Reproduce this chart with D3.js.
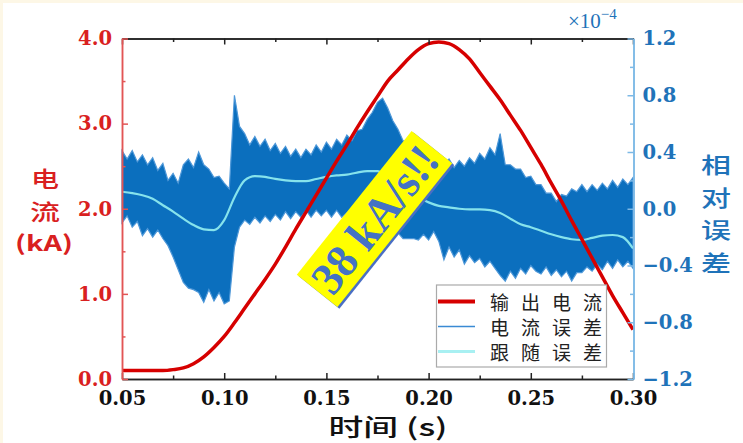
<!DOCTYPE html>
<html>
<head>
<meta charset="utf-8">
<script src="https://cdn.jsdelivr.net/npm/d3@7"></script>
<style>
  html, body { margin: 0; padding: 0; background: #fdf7e6; }
  svg { display: block; }
</style>
</head>
<body>
<svg id="chart" width="743" height="443"></svg>
<script>
// time grid (s)
var tCurve = [0.050,0.055,0.060,0.065,0.070,0.075,0.080,0.085,0.090,0.095,
	0.100,0.105,0.110,0.115,0.120,0.125,0.130,0.135,0.140,0.145,
	0.150,0.155,0.160,0.165,0.170,0.175,0.180,0.185,0.190,0.195,
	0.200,0.205,0.210,0.215,0.220,0.225,0.230,0.235,0.240,0.245,
	0.250,0.255,0.260,0.265,0.270,0.275,0.280,0.285,0.290,0.295,0.300];

// 输出电流 (kA)
var outCurrent = [0.10,0.10,0.10,0.10,0.10,0.11,0.13,0.18,0.26,0.37,
	0.50,0.66,0.83,1.00,1.17,1.35,1.55,1.76,1.96,2.16,
	2.36,2.56,2.75,2.95,3.14,3.32,3.50,3.63,3.76,3.87,
	3.94,3.96,3.94,3.87,3.76,3.60,3.44,3.28,3.10,2.92,
	2.72,2.52,2.30,2.09,1.86,1.64,1.42,1.20,0.98,0.78,0.58];

// 跟随误差 (x1e-4)
var trackErr = [0.12,0.11,0.095,0.07,0.025,-0.02,-0.07,-0.115,-0.145,-0.15,
	-0.08,0.08,0.20,0.23,0.225,0.21,0.20,0.195,0.195,0.21,
	0.225,0.235,0.24,0.255,0.265,0.265,0.225,0.175,0.125,0.08,
	0.045,0.02,0.01,0.0,-0.005,-0.005,-0.01,-0.03,-0.07,-0.11,
	-0.13,-0.155,-0.18,-0.2,-0.215,-0.22,-0.205,-0.19,-0.185,-0.2,-0.28];

// 电流误差 envelope (x1e-4), sampled every 0.0025 s from 0.05
var tBand = d3.range(101).map(function(i) { return +(0.05 + i * 0.0025).toFixed(4); });
var errHi = [0.41,0.35,0.41,0.33,0.38,0.31,0.36,0.27,0.32,0.20,
	0.25,0.18,0.31,0.35,0.29,0.40,0.31,0.28,0.22,0.23,
	0.18,0.14,0.80,0.58,0.53,0.45,0.51,0.44,0.49,0.41,
	0.46,0.39,0.44,0.37,0.42,0.36,0.42,0.38,0.45,0.40,
	0.47,0.42,0.49,0.45,0.52,0.48,0.55,0.56,0.63,0.68,
	0.75,0.78,0.71,0.62,0.56,0.48,0.47,0.40,0.41,0.35,
	0.39,0.33,0.37,0.31,0.35,0.29,0.34,0.30,0.36,0.32,
	0.39,0.35,0.43,0.38,0.53,0.31,0.31,0.28,0.28,0.22,
	0.23,0.17,0.17,0.11,0.11,0.05,0.10,0.09,0.14,0.12,
	0.17,0.12,0.17,0.13,0.18,0.14,0.20,0.15,0.21,0.17,0.22];
var errLo = [-0.10,-0.05,-0.13,-0.09,-0.19,-0.14,-0.20,-0.15,-0.21,-0.26,
	-0.34,-0.43,-0.52,-0.56,-0.57,-0.59,-0.66,-0.57,-0.65,-0.59,
	-0.67,-0.65,-0.27,-0.13,-0.08,-0.11,-0.06,-0.10,-0.05,-0.09,
	-0.04,-0.08,-0.02,-0.07,-0.02,-0.06,-0.01,-0.06,-0.01,-0.05,
	-0.01,-0.06,-0.01,-0.06,-0.03,-0.09,-0.05,-0.11,-0.08,-0.13,
	-0.11,-0.16,-0.13,-0.21,-0.17,-0.21,-0.21,-0.21,-0.22,-0.18,
	-0.22,-0.16,-0.23,-0.36,-0.27,-0.34,-0.29,-0.39,-0.33,-0.38,
	-0.35,-0.41,-0.37,-0.42,-0.47,-0.51,-0.44,-0.49,-0.42,-0.46,
	-0.40,-0.44,-0.46,-0.41,-0.47,-0.43,-0.48,-0.44,-0.51,-0.45,
	-0.45,-0.41,-0.44,-0.39,-0.43,-0.37,-0.42,-0.36,-0.41,-0.37,-0.42];

var xTicks = [0.05,0.10,0.15,0.20,0.25,0.30];
var xMinor = [0.075,0.125,0.175,0.225,0.275];
var yLTicks = [0,1,2,3,4];
var yLMinor = [0.5,1.5,2.5,3.5];
var yRTicks = [-1.2,-0.8,-0.4,0,0.4,0.8,1.2];
var yRMinor = [-1.0,-0.6,-0.2,0.2,0.6,1.0];
var legendLabels = ['输出电流','电流误差','跟随误差'];

var RED = '#d60000', BLUE = '#0b6fbe', CYAN = '#86e3ec';
var LRED = '#d92020', RBLUE = '#1f73b9';
var numFont = '"DejaVu Serif", serif';
var cjkFont = '"Noto Sans CJK SC", sans-serif';

var svg = d3.select('#chart');
svg.append('rect').attr('x', 3).attr('y', 3).attr('width', 740).attr('height', 440).attr('fill', '#fff');

var x = d3.scaleLinear().domain([0.05, 0.30]).range([122, 633]);
var yL = d3.scaleLinear().domain([0, 4]).range([379, 38.5]);
var yR = d3.scaleLinear().domain([-1.2, 1.2]).range([379, 38.5]);

// 电流误差 band
var band = tBand.map(function(t, i) { return [t, errLo[i], errHi[i]]; });
svg.append('path')
	.datum(band)
	.attr('d', d3.area()
		.x(function(d) { return x(d[0]); })
		.y0(function(d) { return yR(d[1]); })
		.y1(function(d) { return yR(d[2]); }))
	.attr('fill', BLUE)
	.attr('stroke', '#4d97d8')
	.attr('stroke-width', 1.2)
	.attr('stroke-linejoin', 'miter');

// 跟随误差
svg.append('path')
	.datum(tCurve.map(function(t, i) { return [t, trackErr[i]]; }))
	.attr('d', d3.line().curve(d3.curveMonotoneX)
		.x(function(d) { return x(d[0]); })
		.y(function(d) { return yR(d[1]); }))
	.attr('fill', 'none').attr('stroke', CYAN).attr('stroke-width', 2.2);

// 输出电流
svg.append('path')
	.datum(tCurve.map(function(t, i) { return [t, outCurrent[i]]; }))
	.attr('d', d3.line().curve(d3.curveMonotoneX)
		.x(function(d) { return x(d[0]); })
		.y(function(d) { return yL(d[1]); }))
	.attr('fill', 'none').attr('stroke', RED).attr('stroke-width', 3.5);

// annotation
var note = svg.append('g').attr('transform', 'translate(374.5,219) rotate(-51.4)');
note.append('rect').attr('x', -92).attr('y', -26 + 2.5).attr('width', 184).attr('height', 52).attr('fill', '#4a6fc4');
note.append('rect').attr('x', -92).attr('y', -26).attr('width', 184).attr('height', 52).attr('fill', '#ffff00');
note.append('text')
	.attr('x', 0).attr('y', 16)
	.attr('text-anchor', 'middle')
	.attr('font-family', '"Liberation Serif", serif')
	.attr('font-weight', 'bold')
	.attr('font-size', 46)
	.attr('textLength', 174).attr('lengthAdjust', 'spacingAndGlyphs')
	.attr('fill', '#4472c4')
	.text('38 kA/s!!');

// axes
function styleAxis(g, color, width) {
	g.select('.domain').attr('stroke', color).attr('stroke-width', width);
	g.selectAll('.tick line').attr('stroke', color).attr('stroke-width', width);
}

var gTop = svg.append('g').attr('transform', 'translate(0,38.5)');
gTop.call(d3.axisTop(x).tickValues(xTicks).tickSize(-6).tickFormat('').tickSizeOuter(0));
styleAxis(gTop, '#222', 1.5);
var gTopM = svg.append('g').attr('transform', 'translate(0,38.5)');
gTopM.call(d3.axisTop(x).tickValues(xMinor).tickSize(-3.5).tickFormat('').tickSizeOuter(0));
styleAxis(gTopM, '#222', 1.5);

var gBot = svg.append('g').attr('transform', 'translate(0,379)');
gBot.call(d3.axisBottom(x).tickValues(xTicks).tickSize(-6).tickSizeOuter(0).tickPadding(12).tickFormat(d3.format('.2f')));
styleAxis(gBot, '#222', 1.5);
gBot.selectAll('text').attr('font-family', numFont).attr('font-weight', 'bold').attr('font-size', 19.5).attr('fill', '#111');
var gBotM = svg.append('g').attr('transform', 'translate(0,379)');
gBotM.call(d3.axisBottom(x).tickValues(xMinor).tickSize(-3.5).tickFormat('').tickSizeOuter(0));
styleAxis(gBotM, '#222', 1.5);

var gL = svg.append('g').attr('transform', 'translate(122,0)');
gL.call(d3.axisLeft(yL).tickValues(yLTicks).tickSize(-6).tickSizeOuter(0).tickPadding(10).tickFormat(d3.format('.1f')));
styleAxis(gL, '#e25555', 1.5);
gL.selectAll('text').attr('font-family', numFont).attr('font-weight', 'bold').attr('font-size', 19.5).attr('fill', LRED);
var gLM = svg.append('g').attr('transform', 'translate(122,0)');
gLM.call(d3.axisLeft(yL).tickValues(yLMinor).tickSize(-3.5).tickFormat('').tickSizeOuter(0));
styleAxis(gLM, '#e25555', 1.5);

var gR = svg.append('g').attr('transform', 'translate(633.5,0)');
gR.call(d3.axisRight(yR).tickValues(yRTicks).tickSize(-6).tickSizeOuter(0).tickPadding(9).tickFormat(d3.format('.1f')));
styleAxis(gR, '#7db9e6', 1.5);
gR.selectAll('text').attr('font-family', numFont).attr('font-weight', 'bold').attr('font-size', 19.5).attr('fill', RBLUE);
var gRM = svg.append('g').attr('transform', 'translate(633.5,0)');
gRM.call(d3.axisRight(yR).tickValues(yRMinor).tickSize(-3.5).tickFormat('').tickSizeOuter(0));
styleAxis(gRM, '#7db9e6', 1.5);

// x10^-4
var mult = svg.append('text').attr('x', 568).attr('y', 28)
	.attr('font-family', '"Liberation Serif", serif').attr('font-size', 21).attr('fill', RBLUE);
mult.append('tspan').text('×10');
mult.append('tspan').attr('dy', -9).attr('font-size', 15).text('−4');

// titles
function label(txt, cx, cy, size, len, color, weight) {
	svg.append('text')
		.attr('x', cx).attr('y', cy)
		.attr('text-anchor', 'middle')
		.attr('dominant-baseline', 'central')
		.attr('font-family', cjkFont)
		.attr('font-size', size)
		.attr('font-weight', weight || 'normal')
		.attr('textLength', len).attr('lengthAdjust', 'spacingAndGlyphs')
		.attr('fill', color)
		.text(txt);
}
label('电', 45, 177, 22, 28, LRED, 500);
label('流', 45, 210, 22, 30, LRED, 500);
label('(kA)', 44, 242, 21, 58, LRED, 'bold');
['相','对','误','差'].forEach(function(c, i) {
	label(c, 716, 163 + i * 32.5, 22, 30, RBLUE, 500);
});
label('时间 (s)', 388, 425, 24, 119, '#111', 500);

// legend
var leg = svg.append('g');
leg.append('rect').attr('x', 436.5).attr('y', 285).attr('width', 170).attr('height', 82)
	.attr('fill', '#fff').attr('stroke', '#aaa').attr('stroke-width', 1.2);
var legStyle = [[RED, 4], ['#3a8ad4', 1.5], ['#a8f0f2', 3]];
legendLabels.forEach(function(s, i) {
	var yy = 301.5 + i * 25;
	leg.append('line').attr('x1', 438).attr('x2', 475).attr('y1', yy).attr('y2', yy)
		.attr('stroke', legStyle[i][0]).attr('stroke-width', legStyle[i][1]);
	leg.append('text').attr('x', 490).attr('y', yy).attr('dominant-baseline', 'central')
		.attr('font-family', cjkFont).attr('font-size', 19)
		.attr('textLength', 112).attr('lengthAdjust', 'spacing')
		.attr('fill', '#222').text(s);
});
</script>
</body>
</html>
